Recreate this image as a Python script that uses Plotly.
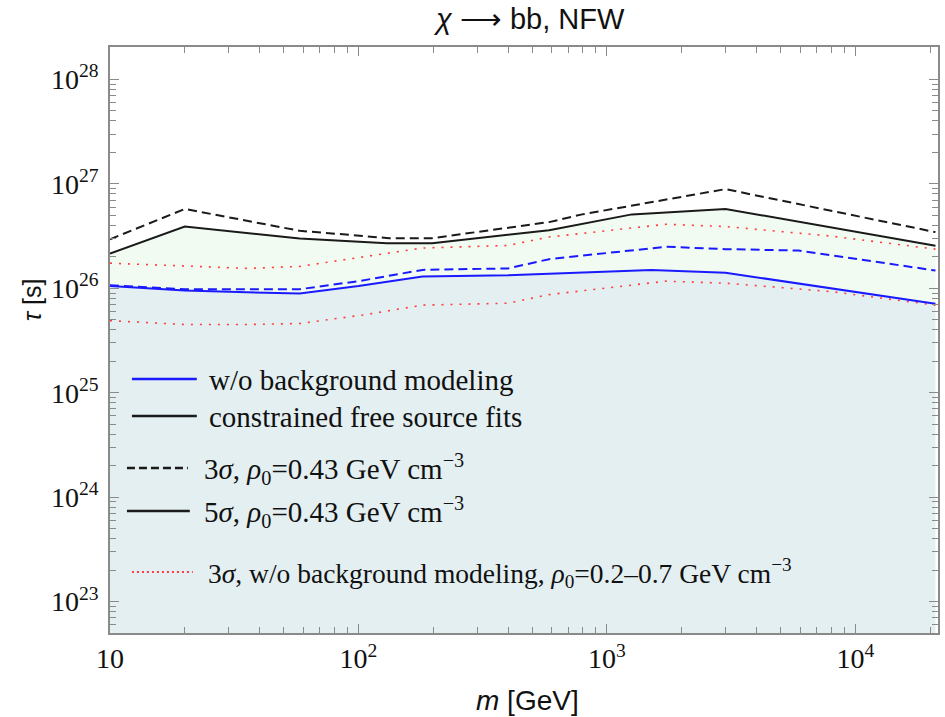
import plotly.graph_objects as go

# ---------------- data (tau in seconds vs mass in GeV) ----------------
m_black_dash = [10, 20, 58, 133, 198, 585, 795, 3000, 21000]
tau_black_dash = [2.95e26, 5.75e26, 3.55e26, 3.02e26, 3.02e26, 4.3e26, 5.1e26, 8.9e26, 3.45e26]

m_black_solid = [10, 20, 58, 130, 198, 585, 1260, 3000, 21000]
tau_black_solid = [2.15e26, 3.9e26, 3.0e26, 2.7e26, 2.7e26, 3.6e26, 5.1e26, 5.75e26, 2.55e26]

m_blue_dash = [10, 20, 58, 100, 181, 400, 585, 1730, 3000, 5900, 21000]
tau_blue_dash = [1.07e26, 9.8e25, 9.8e25, 1.17e26, 1.5e26, 1.55e26, 1.9e26, 2.5e26, 2.37e26, 2.3e26, 1.48e26]

m_blue_solid = [10, 20, 58, 100, 181, 400, 585, 1510, 3000, 21000]
tau_blue_solid = [1.05e26, 9.5e25, 8.9e25, 1.05e26, 1.3e26, 1.33e26, 1.38e26, 1.5e26, 1.41e26, 7.1e25]

m_red = [10, 20, 36, 58, 107, 181, 400, 585, 1730, 3000, 8000, 21000]
tau_red_upper = [1.74e26, 1.62e26, 1.55e26, 1.62e26, 2.0e26, 2.43e26, 2.57e26, 3.1e26, 4.1e26, 3.9e26, 3.16e26, 2.37e26]
tau_red_lower = [4.9e25, 4.5e25, 4.5e25, 4.6e25, 5.6e25, 6.9e25, 7.2e25, 8.7e25, 1.17e26, 1.12e26, 9.3e25, 6.9e25]

x_tickvals = [10, 100, 1000, 10000]
x_ticktext = ["10", "10<sup>2</sup>", "10<sup>3</sup>", "10<sup>4</sup>"]
y_tickvals = [1e23, 1e24, 1e25, 1e26, 1e27, 1e28]
y_ticktext = ["10<sup>23</sup>", "10<sup>24</sup>", "10<sup>25</sup>", "10<sup>26</sup>",
              "10<sup>27</sup>", "10<sup>28</sup>"]

legend_labels = [
    "w/o background modeling",
    "constrained free source fits",
    "3<i>σ</i>, <i>ρ</i><sub>0</sub>=0.43 GeV cm<sup>−3</sup>",
    "5<i>σ</i>, <i>ρ</i><sub>0</sub>=0.43 GeV cm<sup>−3</sup>",
    "3<i>σ</i>, w/o background modeling, <i>ρ</i><sub>0</sub>=0.2–0.7 GeV cm<sup>−3</sup>",
]

# ---------------- layout geometry ----------------
W, H = 945, 717
L, R, T, B = 110, 5, 47, 84
PW, PH = W - L - R, H - T - B

def px(x):
    return (x - L) / PW

def py(y):
    return (H - B - y) / PH

BLUE = "#1a1aff"
BLACK = "#1a1a1a"
RED = "#ff3b3b"
FILL_LOW = "#e4eff1"
FILL_MID = "#f2fbf1"
SERIF = "Liberation Serif"
SANS = "Liberation Sans"

fig = go.Figure()

# floor for the lower fill
floor = [1e20] * len(m_blue_solid)
fig.add_trace(go.Scatter(x=m_blue_solid, y=floor, mode="lines", line=dict(width=0),
                         hoverinfo="skip", showlegend=False))
fig.add_trace(go.Scatter(x=m_blue_solid, y=tau_blue_solid, mode="lines", line=dict(width=0),
                         fill="tonexty", fillcolor=FILL_LOW, hoverinfo="skip", showlegend=False))
# band between blue solid and black solid
fig.add_trace(go.Scatter(x=m_black_solid + m_blue_solid[::-1],
                         y=tau_black_solid + tau_blue_solid[::-1],
                         mode="lines", line=dict(width=0), fill="toself",
                         fillcolor=FILL_MID, hoverinfo="skip", showlegend=False))

fig.add_trace(go.Scatter(x=m_red, y=tau_red_upper, mode="lines",
                         line=dict(color=RED, width=1.6, dash="2px,7px"), showlegend=False))
fig.add_trace(go.Scatter(x=m_red, y=tau_red_lower, mode="lines",
                         line=dict(color=RED, width=1.6, dash="2px,7px"), showlegend=False))
fig.add_trace(go.Scatter(x=m_blue_dash, y=tau_blue_dash, mode="lines",
                         line=dict(color=BLUE, width=2, dash="9px,5px"), showlegend=False))
fig.add_trace(go.Scatter(x=m_blue_solid, y=tau_blue_solid, mode="lines",
                         line=dict(color=BLUE, width=2), showlegend=False))
fig.add_trace(go.Scatter(x=m_black_dash, y=tau_black_dash, mode="lines",
                         line=dict(color=BLACK, width=2, dash="9px,5px"), showlegend=False))
fig.add_trace(go.Scatter(x=m_black_solid, y=tau_black_solid, mode="lines",
                         line=dict(color=BLACK, width=2), showlegend=False))

# ---------------- legend (drawn manually) ----------------
legend_rows = [
    # (x0, x1, y, text_x, color, dash, font size)
    (132, 197, 379, 207, BLUE, "solid", 29),
    (132, 197, 416, 207, BLACK, "solid", 29),
    (127, 188, 468, 202, BLACK, "8px,4px", 29),
    (127, 190, 511, 202, BLACK, "solid", 29),
    (132, 193, 572, 206, RED, "2px,3px", 27.5),
]
shapes = []
annotations = []
for (x0, x1, yy, tx, col, dsh, fs), lab in zip(legend_rows, legend_labels):
    shapes.append(dict(type="line", xref="paper", yref="paper",
                       x0=px(x0), x1=px(x1), y0=py(yy), y1=py(yy),
                       line=dict(color=col, width=2.5 if col != RED else 2, dash=dsh)))
    annotations.append(dict(xref="paper", yref="paper", x=px(tx), y=py(yy + 1),
                            xanchor="left", yanchor="middle", showarrow=False,
                            text=lab, font=dict(family=SERIF, size=fs, color="#111")))

# title and axis titles
annotations.append(dict(xref="paper", yref="paper", x=px(530), y=py(19),
                        xanchor="center", yanchor="middle", showarrow=False,
                        text="<i>χ</i> ⟶ bb, NFW",
                        font=dict(family=SANS, size=29, color="#111")))
annotations.append(dict(xref="paper", yref="paper", x=px(529), y=py(700),
                        xanchor="center", yanchor="middle", showarrow=False,
                        text="<i>m</i> [GeV]",
                        font=dict(family=SANS, size=28, color="#111")))
annotations.append(dict(xref="paper", yref="paper", x=px(32), y=py(300),
                        xanchor="center", yanchor="middle", showarrow=False,
                        text="<i>τ</i> [s]", textangle=-90,
                        font=dict(family=SANS, size=25, color="#111")))

x_minor = [k * 10 ** e for e in range(1, 5) for k in range(2, 10)]
y_minor = [k * 10.0 ** e for e in range(22, 29) for k in range(2, 10)]

axis_common = dict(showgrid=False, zeroline=False, showline=True, linecolor="#8a8a8a",
                   linewidth=1.5, mirror="allticks", ticks="inside", ticklen=9,
                   tickwidth=1.2, tickcolor="#8a8a8a",
                   tickfont=dict(family=SERIF, size=28, color="#111"))

fig.update_xaxes(type="log", range=[1, 4.3324], tickmode="array",
                 tickvals=x_tickvals, ticktext=x_ticktext,
                 minor=dict(tickmode="array", tickvals=x_minor, ticks="inside",
                            ticklen=6, tickwidth=1, tickcolor="#8a8a8a"),
                 **axis_common)
fig.update_yaxes(type="log", range=[22.70, 28.31], tickmode="array",
                 tickvals=y_tickvals, ticktext=y_ticktext, ticklabelstandoff=4,
                 minor=dict(tickmode="array", tickvals=y_minor, ticks="inside",
                            ticklen=6, tickwidth=1, tickcolor="#8a8a8a"),
                 **axis_common)

fig.update_layout(width=W, height=H, margin=dict(l=L, r=R, t=T, b=B),
                  plot_bgcolor="white", paper_bgcolor="white",
                  shapes=shapes, annotations=annotations, showlegend=False)

fig.write_html("out.html")
